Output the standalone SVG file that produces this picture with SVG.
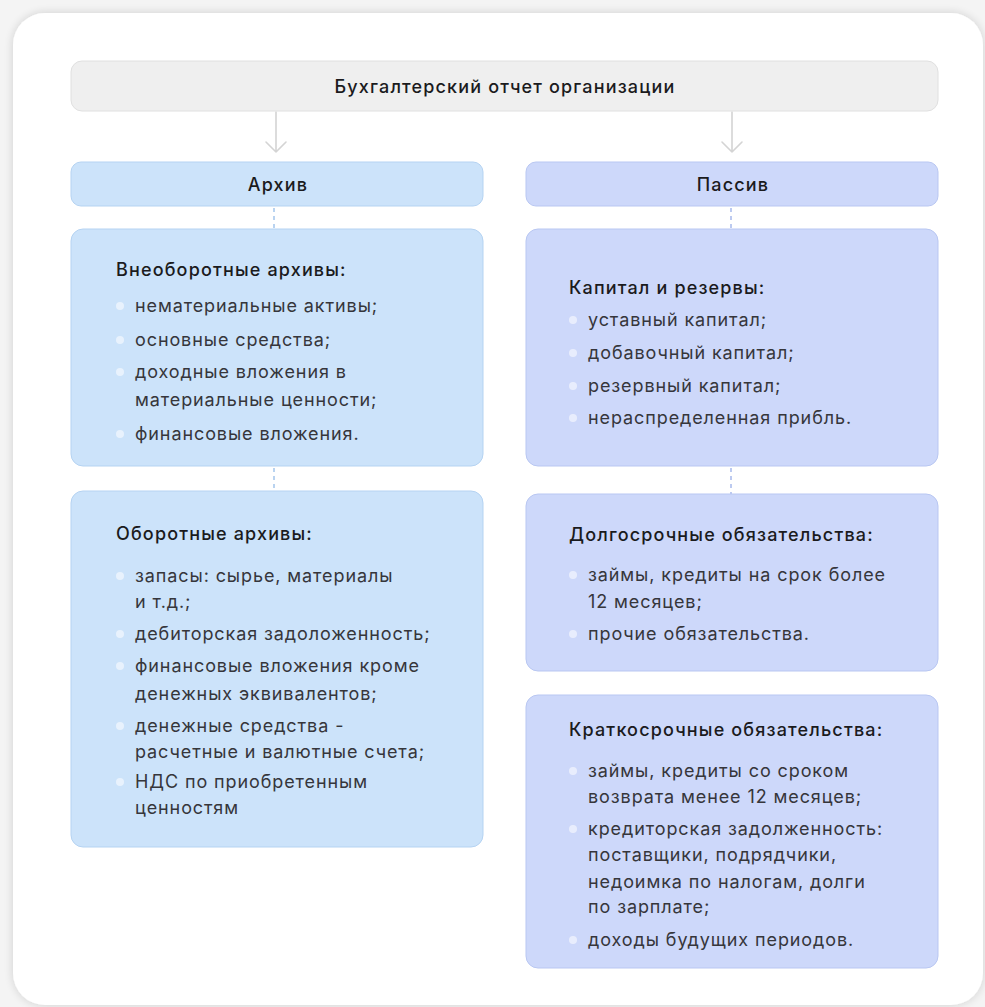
<svg xmlns="http://www.w3.org/2000/svg" width="985" height="1007" viewBox="0 0 985 1007">
<defs>
<filter id="sh" x="-5%" y="-5%" width="110%" height="110%">
<feGaussianBlur in="SourceAlpha" stdDeviation="5"/>
<feComponentTransfer><feFuncA type="linear" slope="0.16"/></feComponentTransfer>
<feMerge><feMergeNode/><feMergeNode in="SourceGraphic"/></feMerge>
</filter>
</defs>
<style>
.top{fill:#efefef;stroke:#e0e0e0;stroke-width:1}
.a{fill:#cce3fa;stroke:#b5d3f2;stroke-width:1}
.p{fill:#cdd8fa;stroke:#b9c7f2;stroke-width:1}
.h{font-family:Inter,"Noto Sans",sans-serif;font-size:18px;fill:#1b1b1d;font-weight:500;letter-spacing:1.15px}
.i{font-family:Inter,"Noto Sans",sans-serif;font-size:18px;fill:#36363b;font-weight:400;letter-spacing:0.9px}
.c{text-anchor:middle}
.b{fill:#ffffff;fill-opacity:0.55}
.dot{stroke:#b9d3f0;stroke-width:2;stroke-dasharray:4 4}
.dotp{stroke:#bccaf0;stroke-width:2;stroke-dasharray:4 4}
.arr{stroke:#d4d4d4;stroke-width:1.6;fill:none;stroke-linecap:round;stroke-linejoin:round}
</style>
<rect x="0" y="0" width="985" height="1007" fill="#f4f4f4"/>
<rect x="13" y="13" width="970" height="992" rx="32" fill="#ffffff" filter="url(#sh)"/>

<g id="connectors">
<path class="arr" d="M276,112 V152 M266,142 L276,152 L286,142"/>
<path class="arr" d="M732,112 V152 M722,142 L732,152 L742,142"/>
<line class="dot" x1="274" y1="208" x2="274" y2="229"/>
<line class="dotp" x1="731" y1="208" x2="731" y2="229"/>
<line class="dot" x1="274" y1="468" x2="274" y2="491"/>
<line class="dotp" x1="731" y1="468" x2="731" y2="494"/>
</g>

<g id="root">
<rect class="top" x="71" y="61" width="867" height="50" rx="11"/>
<text class="h c" x="505" y="93" letter-spacing="1.35">Бухгалтерский отчет организации</text>
</g>

<g id="aktiv">
<rect class="a" x="71" y="162" width="412" height="44" rx="10"/>
<text class="h c" x="278" y="191">Архив</text>
</g>

<g id="passiv">
<rect class="p" x="526" y="162" width="412" height="44" rx="10"/>
<text class="h c" x="733" y="191">Пассив</text>
</g>

<g id="vneoborot">
<rect class="a" x="71" y="229" width="412" height="237" rx="12"/>
<text class="h" x="116" y="276">Внеоборотные архивы:</text>
<circle class="b" cx="120" cy="306" r="4"/>
<circle class="b" cx="120" cy="340" r="4"/>
<circle class="b" cx="120" cy="372" r="4"/>
<circle class="b" cx="120" cy="434" r="4"/>
<text class="i" x="135" y="312">нематериальные активы;</text>
<text class="i" x="135" y="346">основные средства;</text>
<text class="i" x="135" y="378">доходные вложения в</text>
<text class="i" x="135" y="406">материальные ценности;</text>
<text class="i" x="135" y="440">финансовые вложения.</text>
</g>

<g id="oborot">
<rect class="a" x="71" y="491" width="412" height="356" rx="12"/>
<text class="h" x="116" y="540">Оборотные архивы:</text>
<circle class="b" cx="120" cy="576" r="4"/>
<circle class="b" cx="120" cy="634" r="4"/>
<circle class="b" cx="120" cy="666" r="4"/>
<circle class="b" cx="120" cy="726" r="4"/>
<circle class="b" cx="120" cy="782" r="4"/>
<text class="i" x="135" y="582">запасы: сырье, материалы</text>
<text class="i" x="135" y="608">и т.д.;</text>
<text class="i" x="135" y="640">дебиторская задоложенность;</text>
<text class="i" x="135" y="672">финансовые вложения кроме</text>
<text class="i" x="135" y="700">денежных эквивалентов;</text>
<text class="i" x="135" y="732">денежные средства -</text>
<text class="i" x="135" y="758">расчетные и валютные счета;</text>
<text class="i" x="135" y="788">НДС по приобретенным</text>
<text class="i" x="135" y="814">ценностям</text>
</g>

<g id="kapital">
<rect class="p" x="526" y="229" width="412" height="237" rx="12"/>
<text class="h" x="569" y="294">Капитал и резервы:</text>
<circle class="b" cx="573" cy="320" r="4"/>
<circle class="b" cx="573" cy="353" r="4"/>
<circle class="b" cx="573" cy="386" r="4"/>
<circle class="b" cx="573" cy="418" r="4"/>
<text class="i" x="588" y="326">уставный капитал;</text>
<text class="i" x="588" y="359">добавочный капитал;</text>
<text class="i" x="588" y="392">резервный капитал;</text>
<text class="i" x="588" y="424">нераспределенная прибль.</text>
</g>

<g id="dolgosroch">
<rect class="p" x="526" y="494" width="412" height="177" rx="12"/>
<text class="h" x="569" y="541">Долгосрочные обязательства:</text>
<circle class="b" cx="573" cy="575" r="4"/>
<circle class="b" cx="573" cy="634" r="4"/>
<text class="i" x="588" y="581">займы, кредиты на срок более</text>
<text class="i" x="588" y="608">12 месяцев;</text>
<text class="i" x="588" y="640">прочие обязательства.</text>
</g>

<g id="kratkosroch">
<rect class="p" x="526" y="695" width="412" height="273" rx="12"/>
<text class="h" x="569" y="736">Краткосрочные обязательства:</text>
<circle class="b" cx="573" cy="771" r="4"/>
<circle class="b" cx="573" cy="829" r="4"/>
<circle class="b" cx="573" cy="940" r="4"/>
<text class="i" x="588" y="777">займы, кредиты со сроком</text>
<text class="i" x="588" y="803">возврата менее 12 месяцев;</text>
<text class="i" x="588" y="835">кредиторская задолженность:</text>
<text class="i" x="588" y="861">поставщики, подрядчики,</text>
<text class="i" x="588" y="888">недоимка по налогам, долги</text>
<text class="i" x="588" y="913">по зарплате;</text>
<text class="i" x="588" y="946">доходы будущих периодов.</text>
</g>
</svg>
